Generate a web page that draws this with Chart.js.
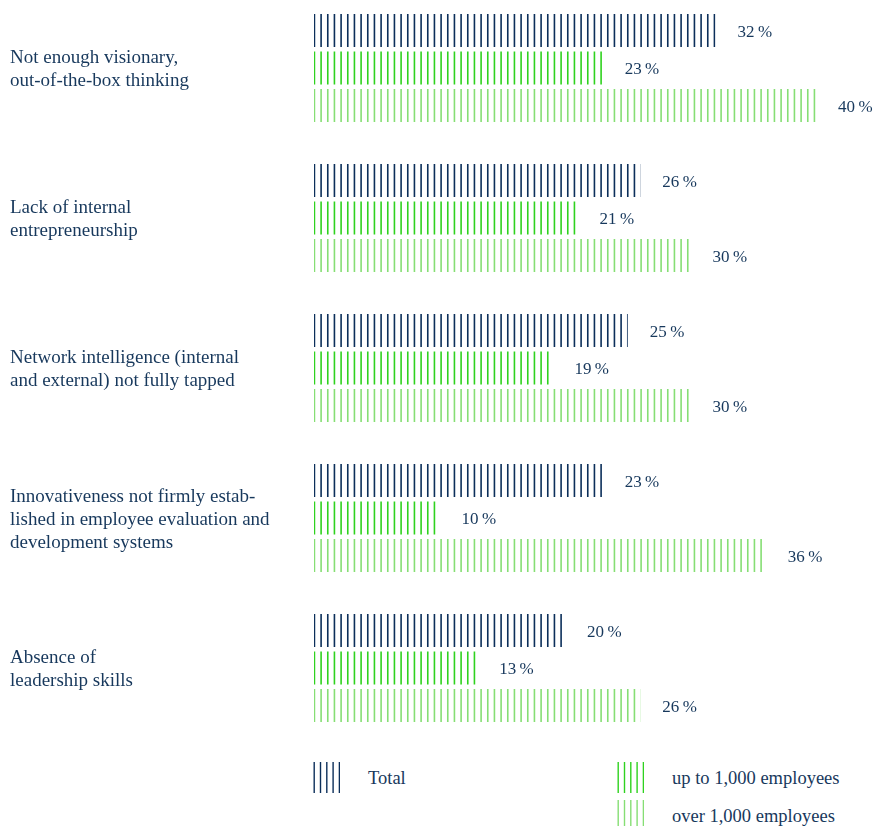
<!DOCTYPE html>
<html>
<head>
<meta charset="utf-8">
<script src="https://cdn.jsdelivr.net/npm/chart.js@4.4.1/dist/chart.umd.min.js"></script>
<style>
  html, body { margin: 0; padding: 0; background: #fff; }
  body { width: 885px; height: 826px; position: relative; overflow: hidden; }
  #wrap { position: absolute; left: 0; top: -7px; width: 885px; height: 750px; }
  .key { position: absolute; font-family: "Liberation Serif", serif; font-size: 18.5px; color: #17385c; }
  .sw { position: absolute; width: 27px; }
</style>
</head>
<body>
<div id="wrap"><canvas id="barChart"></canvas></div>

<canvas class="sw" id="swTotal" width="27" height="31" style="left:313px;top:762px;height:31px"></canvas>
<div class="key" style="left:368px;top:768px">Total</div>
<canvas class="sw" id="swSmall" width="27" height="31" style="left:617px;top:762px;height:31px"></canvas>
<div class="key" style="left:672px;top:768px">up to 1,000 employees</div>
<canvas class="sw" id="swLarge" width="27" height="27" style="left:617px;top:800px;height:27px"></canvas>
<div class="key" style="left:672px;top:806px">over 1,000 employees</div>

<script>
document.addEventListener('DOMContentLoaded', function() {
	// Data
	const categories = [
		['Not enough visionary,', 'out-of-the-box thinking'],
		['Lack of internal', 'entrepreneurship'],
		['Network intelligence (internal', 'and external) not fully tapped'],
		['Innovativeness not firmly estab-', 'lished in employee evaluation and', 'development systems'],
		['Absence of', 'leadership skills']
	];
	const seriesNames = ['Total', 'up to 1,000 employees', 'over 1,000 employees'];
	const totalValues = [32, 26, 25, 23, 20];
	const smallCompanyValues = [23, 21, 19, 10, 13];
	const largeCompanyValues = [40, 30, 30, 36, 26];

	// Colors
	const navyColor = '#0c2f5a',
		greenColor = '#2fd21f',
		lightGreenColor = '#86de74',
		textColor = '#17385c';

	// Vertical hairline stripes, three per 20px tile
	function stripes(color, width) {
		const c = document.createElement('canvas');
		c.width = 20;
		c.height = 4;
		const ctx = c.getContext('2d');
		ctx.fillStyle = color;
		[0, 6.67, 13.33].forEach(function(x) {
			ctx.fillRect(x + 0.3, 0, width, 4);
		});
		return c;
	}

	const navyTile = stripes(navyColor, 1.6),
		greenTile = stripes(greenColor, 1.6),
		lightGreenTile = stripes(lightGreenColor, 1.6);

	// legend swatches
	[['swTotal', navyColor], ['swSmall', greenColor], ['swLarge', lightGreenColor]].forEach(function(s) {
		const el = document.getElementById(s[0]);
		const ctx = el.getContext('2d');
		ctx.fillStyle = s[1];
		for (let i = 0; i < 5; i++) {
			ctx.fillRect(0.5 + i * 6.3, 0, 1.4, el.height);
		}
	});

	// Value labels right of each bar
	const valueLabels = {
		id: 'valueLabels',
		afterDatasetsDraw: function(chart) {
			const ctx = chart.ctx;
			ctx.save();
			ctx.font = '17px "Liberation Serif", serif';
			ctx.fillStyle = textColor;
			ctx.textBaseline = 'middle';
			chart.data.datasets.forEach(function(ds, i) {
				chart.getDatasetMeta(i).data.forEach(function(bar, j) {
					ctx.fillText(ds.data[j] + '\u2009%', bar.x + 22, bar.y + 2);
				});
			});
			ctx.restore();
		}
	};

	const barChart = document.getElementById('barChart');
	const ctx = barChart.getContext('2d');
	new Chart(barChart, {
		type: 'bar',
		data: {
			labels: categories,
			datasets: [
				{ label: seriesNames[0], data: totalValues, backgroundColor: ctx.createPattern(navyTile, 'repeat') },
				{ label: seriesNames[1], data: smallCompanyValues, backgroundColor: ctx.createPattern(greenTile, 'repeat') },
				{ label: seriesNames[2], data: largeCompanyValues, backgroundColor: ctx.createPattern(lightGreenTile, 'repeat') }
			]
		},
		options: {
			indexAxis: 'y',
			responsive: true,
			maintainAspectRatio: false,
			animation: false,
			categoryPercentage: 0.75,
			barPercentage: 0.885,
			layout: { padding: { left: 10, right: 0, top: 0, bottom: 0 } },
			scales: {
				x: {
					display: false,
					min: 0,
					max: 45.5
				},
				y: {
					afterFit: function(scale) {
						scale.width = 304;
						scale.paddingTop = 0;
						scale.paddingBottom = 0;
					},
					grid: { display: false },
					border: { display: false },
					ticks: {
						crossAlign: 'far',
						labelOffset: 2,
						color: textColor,
						font: { family: '"Liberation Serif", serif', size: 19, lineHeight: 1.21 }
					}
				}
			},
			plugins: {
				legend: { display: false },
				tooltip: { enabled: false }
			}
		},
		plugins: [valueLabels]
	});
});
</script>
</body>
</html>
